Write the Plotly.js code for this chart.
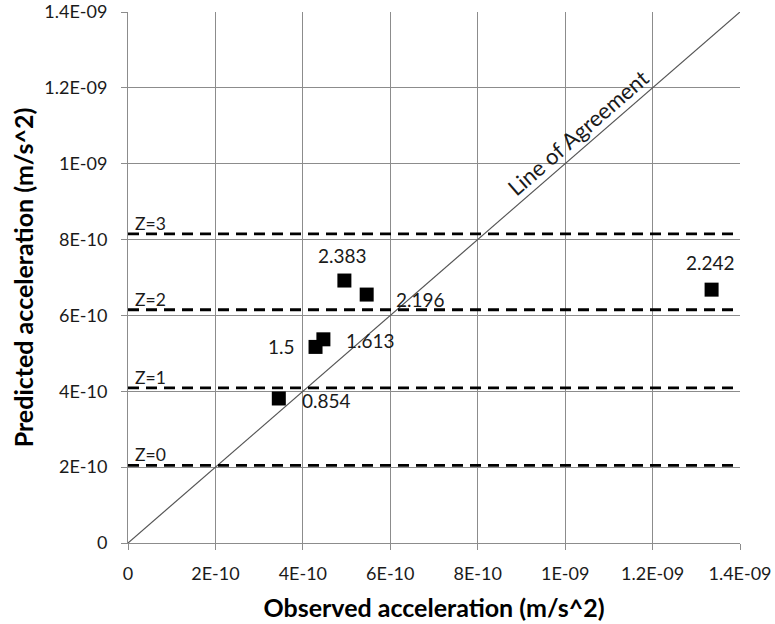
<!DOCTYPE html>
<html>
<head>
<meta charset="utf-8">
<script src="https://cdn.plot.ly/plotly-3.0.1.min.js"></script>
<style>html,body{margin:0;padding:0;background:#fff;}#chart{width:775px;height:624px;}</style>
</head>
<body>
<div id="chart"></div>
<script>
// Data
const observed  = [3.45e-10, 4.29e-10, 4.47e-10, 4.95e-10, 5.46e-10, 1.335e-9];
const predicted = [3.81e-10, 5.17e-10, 5.37e-10, 6.92e-10, 6.55e-10, 6.68e-10];
const pointLabels = ['0.854', '1.5', '1.613', '2.383', '2.196', '2.242'];
const zNames  = ['Z=0', 'Z=1', 'Z=2', 'Z=3'];
const zLevels = [2.045e-10, 4.09e-10, 6.15e-10, 8.15e-10];
const agreementRange = [0, 1.4e-9];
const tickVals = [0, 2e-10, 4e-10, 6e-10, 8e-10, 1e-9, 1.2e-9, 1.4e-9];
const tickText = ['0', '2E-10', '4E-10', '6E-10', '8E-10', '1E-09', '1.2E-09', '1.4E-09'];

// Label offsets (px) – styling only
const labelShift = [[48, -2], [-34, 0], [47, -1], [-2, 25], [54, -5], [-1, 27]];

const FONT = 'Lato, "Open Sans", sans-serif';
const traces = [];

// Line of agreement
traces.push({
  x: agreementRange, y: agreementRange, mode: 'lines', type: 'scatter',
  line: {color: '#555', width: 1.2}, hoverinfo: 'skip', showlegend: false
});

// Z lines
zLevels.forEach(function (z) {
  traces.push({
    x: agreementRange, y: [z, z], mode: 'lines', type: 'scatter',
    line: {color: '#000', width: 2.8, dash: '11px,7px'}, hoverinfo: 'skip', showlegend: false
  });
});

// Points
traces.push({
  x: observed, y: predicted, mode: 'markers', type: 'scatter',
  marker: {symbol: 'square', size: 14, color: '#000'}, showlegend: false
});

const annotations = [];
pointLabels.forEach(function (t, i) {
  annotations.push({
    x: observed[i], y: predicted[i], xref: 'x', yref: 'y', text: t, showarrow: false,
    xshift: labelShift[i][0], yshift: labelShift[i][1],
    font: {family: FONT, size: 19, color: '#1a1a1a'}
  });
});
zNames.forEach(function (t, i) {
  annotations.push({
    x: 0, y: zLevels[i], xref: 'x', yref: 'y', text: t, showarrow: false,
    xanchor: 'left', yanchor: 'bottom', xshift: 5, yshift: -2,
    font: {family: FONT, size: 17.5, color: '#1a1a1a'}
  });
});
annotations.push({
  x: 1.029e-9, y: 1.083e-9, xref: 'x', yref: 'y', text: 'Line of Agreement', showarrow: false,
  textangle: -41, font: {family: FONT, size: 22, color: '#1a1a1a'}
});

const axisCommon = {
  range: [0, 1.4e-9], tickvals: tickVals, ticktext: tickText,
  showgrid: true, gridcolor: '#8c8c8c', gridwidth: 1,
  showline: true, linecolor: '#8c8c8c', linewidth: 1,
  ticks: 'outside', ticklen: 6, tickcolor: '#8c8c8c',
  zeroline: false, automargin: false,
  tickfont: {family: FONT, size: 18, color: '#1a1a1a'}
};

const layout = {
  width: 775, height: 624,
  margin: {l: 128, r: 35, t: 12, b: 81},
  paper_bgcolor: '#fff', plot_bgcolor: '#fff',
  xaxis: Object.assign({}, axisCommon, {
    ticklabelstandoff: 8,
    title: {text: '<b>Observed acceleration (m/s^2)</b>', font: {family: FONT, size: 25, color: '#000'}, standoff: 16}
  }),
  yaxis: Object.assign({}, axisCommon, {
    ticklabelstandoff: 10,
    title: {text: '<b>Predicted acceleration (m/s^2)</b>', font: {family: FONT, size: 25, color: '#000'}, standoff: 3}
  }),
  annotations: annotations
};

Plotly.newPlot('chart', traces, layout, {displayModeBar: false, staticPlot: true});
</script>
</body>
</html>
